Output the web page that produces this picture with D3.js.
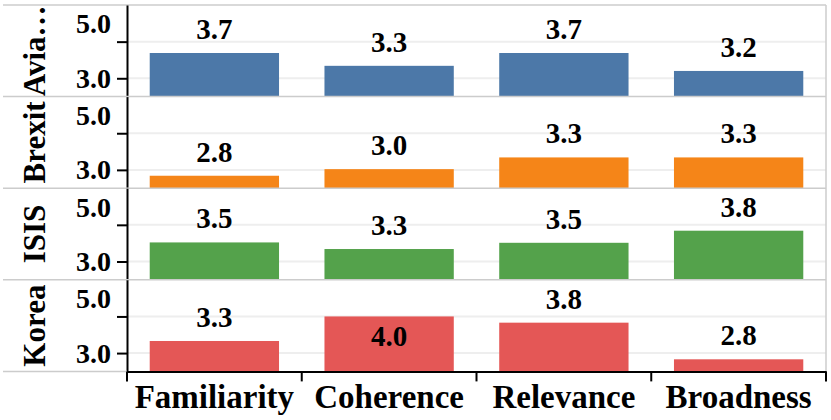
<!DOCTYPE html>
<html>
<head>
<meta charset="utf-8">
<script src="https://cdn.jsdelivr.net/npm/d3@7"></script>
</head>
<body style="margin:0; background:#fff">
<svg id="chart" width="831" height="420"></svg>
<script>
// data
const topics = ['Avia…', 'Brexit', 'ISIS', 'Korea'];
const metrics = ['Familiarity', 'Coherence', 'Relevance', 'Broadness'];
const aviaScores = [3.69, 3.34, 3.69, 3.2];
const brexitScores = [2.84, 3.02, 3.34, 3.34];
const isisScores = [3.52, 3.34, 3.51, 3.84];
const koreaScores = [3.33, 4.0, 3.83, 2.83];
const yTicks = [3, 4, 5];
const colors = ['#4c78a8', '#f58518', '#54a24b', '#e45756'];

const scores = [aviaScores, brexitScores, isisScores, koreaScores];

const svg = d3.select('#chart');
const plotTop = 5, rowH = 91.6, left = 127, right = 826;
const bottom = plotTop + rowH * topics.length;
const serif = '"Liberation Serif", "Times New Roman", serif';

const x = d3.scaleBand()
    .domain(metrics)
    .range([left, right])
    .paddingInner(0.26)
    .paddingOuter(0.13);

const y = d3.scaleLinear().domain([2.5, 5]).range([rowH, 0]);
const fmt = d3.format('.1f');

function bold(sel, size) {
    return sel.attr('font-family', null)
        .style('font-family', serif)
        .style('font-weight', 'bold')
        .style('font-size', size + 'px')
        .attr('fill', '#000');
}

topics.forEach((topic, r) => {
    const g = svg.append('g').attr('transform', `translate(0,${plotTop + r * rowH})`);

    // gridlines
    g.selectAll('.grid')
        .data([3, 4])
        .enter()
        .append('line')
        .attr('x1', left).attr('x2', right)
        .attr('y1', d => y(d)).attr('y2', d => y(d))
        .attr('stroke', '#eeeeee')
        .attr('stroke-width', 2);

    // bars
    g.selectAll('.bar')
        .data(scores[r])
        .enter()
        .append('rect')
        .attr('x', (d, i) => x(metrics[i]))
        .attr('width', x.bandwidth())
        .attr('y', d => y(d))
        .attr('height', d => y(2.5) - y(d))
        .attr('fill', colors[r]);

    // value labels
    bold(g.selectAll('.val')
        .data(scores[r])
        .enter()
        .append('text')
        .attr('x', (d, i) => x(metrics[i]) + x.bandwidth() / 2)
        .attr('y', d => d >= 4 ? y(d) + 30 : y(d) - 14)
        .attr('text-anchor', 'middle')
        .text(d => fmt(d)), 29);

    // row border
    g.append('line')
        .attr('x1', 3).attr('x2', right)
        .attr('y1', 0).attr('y2', 0)
        .attr('stroke', '#cccccc')
        .attr('stroke-width', 1.5);

    // y axis
    const ax = g.append('g')
        .attr('transform', `translate(${left},0)`)
        .call(d3.axisLeft(y)
            .tickValues(yTicks)
            .tickSize(10)
            .tickSizeOuter(0)
            .tickPadding(6)
            .tickFormat(d => d === 4 ? '' : fmt(d)));
    ax.select('.domain').attr('stroke', '#000').attr('stroke-width', 2);
    ax.selectAll('.tick line').attr('stroke', '#000').attr('stroke-width', 2)
        .attr('opacity', d => d === 5 ? 0 : 1);
    bold(ax.selectAll('.tick text'), 28)
        .attr('y', d => d === 5 ? 19 : 0);

    // row header
    bold(g.append('text')
        .attr('transform', `translate(45,${rowH / 2}) rotate(-90)`)
        .attr('text-anchor', 'middle')
        .text(topic), 31);
});

// bottom border line for the header column
svg.append('line')
    .attr('x1', 3).attr('x2', left)
    .attr('y1', bottom).attr('y2', bottom)
    .attr('stroke', '#cccccc')
    .attr('stroke-width', 1.5);

// right border
svg.append('line')
    .attr('x1', right).attr('x2', right)
    .attr('y1', plotTop).attr('y2', bottom)
    .attr('stroke', '#cccccc')
    .attr('stroke-width', 1.5);

// x axis
const xa = svg.append('g')
    .attr('transform', `translate(0,${bottom})`)
    .call(d3.axisBottom(x).tickSize(0).tickSizeOuter(0).tickPadding(13));
xa.select('.domain').attr('stroke', '#000').attr('stroke-width', 2);
bold(xa.selectAll('.tick text'), 33);

const edges = metrics.map(m => x(m) - x.step() * x.paddingInner() / 2).concat([right]);
xa.selectAll('.edge')
    .data(edges)
    .enter()
    .append('line')
    .attr('x1', d => d).attr('x2', d => d)
    .attr('y1', 0).attr('y2', 10)
    .attr('stroke', '#000')
    .attr('stroke-width', 2);
</script>
</body>
</html>
